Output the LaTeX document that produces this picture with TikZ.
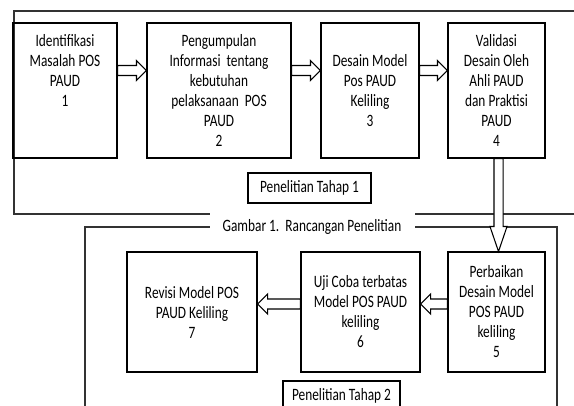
\documentclass[tikz,border=0pt]{standalone}
\usepackage{fontspec}
\setmainfont{Carlito}[FakeStretch=0.77]
\usetikzlibrary{calc}

\begin{document}
\begin{tikzpicture}[x=0.75pt, y=-0.75pt,
    box/.style={draw, line width=0.8pt, minimum height=101.25pt, inner sep=0pt, align=center, font=\fontsize{13}{15}\selectfont},
    tag/.style={draw, line width=0.8pt, minimum height=22.5pt, inner sep=0pt, font=\fontsize{13}{15}\selectfont},
    frame/.style={line width=0.8pt, draw=black!80},
    blockarrow/.style n args={3}{draw, line width=0.8pt, fill=white, to path={
        let \p1=(\tikztostart), \p2=(\tikztotarget), \p3=($(\p2)!#3!(\p1)$) in
        ($(\p1)!#1!90:(\p2)$) -- ($(\p3)!#1!-90:(\p1)$) -- ($(\p3)!#2!-90:(\p1)$) -- (\p2)
        -- ($(\p3)!#2!90:(\p1)$) -- ($(\p3)!#1!90:(\p1)$) -- ($(\p1)!#1!-90:(\p2)$) -- cycle}},
    harrow/.style={blockarrow={3.75pt}{7.5pt}{7.5pt}},
    varrow/.style={blockarrow={3.4pt}{6.4pt}{18.75pt}}
]
    \clip (0,0) rectangle (574,405);

    % frames of the two stages
    \draw[frame] (580,11) -- (14,11) -- (14,214) -- (580,214);
    \draw[frame] (85,410) -- (85,227) -- (557,227) -- (557,410);
    \node[fill=white, minimum width=153.75pt, minimum height=24pt, inner sep=0pt, font=\fontsize{13}{15}\selectfont] (caption) at (312,227) {Gambar 1.\ \ Rancangan Penelitian};

    % stage 1
    \node[box, minimum width=78pt] (ident) at (65,90.5) {Identifikasi\\Masalah POS\\PAUD\\1\\[15pt]~};
    \node[box, minimum width=108pt] (collect) at (219,90.5) {Pengumpulan\\Informasi\ \ tentang\\kebutuhan\\pelaksanaan\ \ POS\\PAUD\\2};
    \node[box, minimum width=73.5pt] (design) at (370,90.5) {Desain Model\\Pos PAUD\\Keliling\\3};
    \node[box, minimum width=72.75pt] (valid) at (496.5,90.5) {Validasi\\Desain Oleh\\Ahli PAUD\\dan Praktisi\\PAUD\\4};
    \node[tag, minimum width=92.25pt] (stage1) at (309.5,188) {Penelitian Tahap 1};

    % stage 2
    \node[box, minimum width=72.75pt, minimum height=90pt] (repair) at (496.5,312) {Perbaikan\\Desain Model\\POS PAUD\\keliling\\5};
    \node[box, minimum width=89.25pt, minimum height=90pt] (trial) at (360.5,312) {Uji Coba terbatas\\Model POS PAUD\\keliling\\6};
    \node[box, minimum width=97.5pt, minimum height=90pt] (revise) at (192,312) {Revisi Model POS\\PAUD Keliling\\7};
    \node[tag, minimum width=87.75pt] (stage2) at (341.5,396) {Penelitian Tahap 2};

    \draw[harrow] ([yshift=15pt]ident.east) to ([yshift=15pt]collect.west);
    \draw[harrow] ([yshift=15pt]collect.east) to ([yshift=15pt]design.west);
    \draw[harrow] ([yshift=15pt]design.east) to ([yshift=15pt]valid.west);
    \draw[varrow] ([xshift=1.5pt]valid.south) to ([xshift=1.5pt]repair.north);
    \draw[harrow] ([yshift=6pt]repair.west) to ([yshift=6pt]trial.east);
    \draw[harrow] ([yshift=6pt]trial.west) to ([yshift=6pt]revise.east);
\end{tikzpicture}
\end{document}
